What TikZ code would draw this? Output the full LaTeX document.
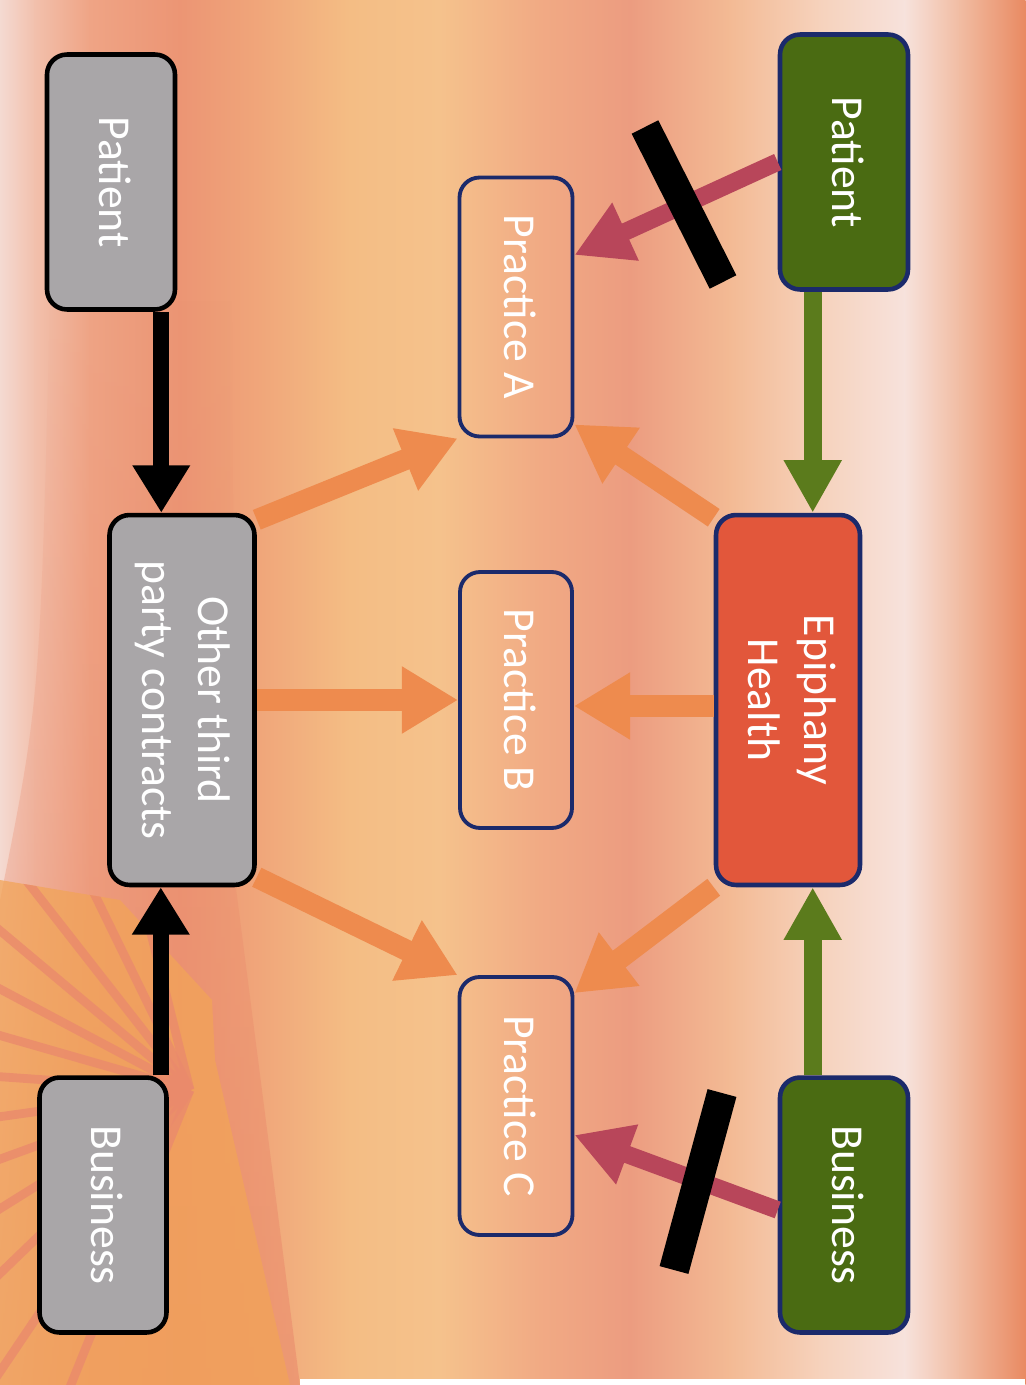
\documentclass[tikz,border=0pt]{standalone}
\usepackage{fontspec}
\setmainfont{Carlito}
\usepackage{graphicx}
\usetikzlibrary{arrows.meta,fadings}

\definecolor{boxgrey}{HTML}{A9A6A8}
\definecolor{boxgreen}{HTML}{4A6B12}
\definecolor{boxred}{HTML}{E2573B}
\definecolor{navy}{HTML}{1B2A6B}
\definecolor{linkgreen}{HTML}{5B7B1C}
\definecolor{linkred}{HTML}{B8465A}
\definecolor{linkorange}{HTML}{EE8B4E}
\definecolor{sunorange}{HTML}{F2A458}
\definecolor{sunray}{HTML}{EA8A6C}
% background stripes
\definecolor{bgA}{HTML}{F4DAD2}
\definecolor{bgB}{HTML}{F2C0AC}
\definecolor{bgC}{HTML}{EFA485}
\definecolor{bgD}{HTML}{EC9574}
\definecolor{bgE}{HTML}{F0A67A}
\definecolor{bgF}{HTML}{F4BD84}
\definecolor{bgG}{HTML}{F5C28C}
\definecolor{bgH}{HTML}{F1AA84}
\definecolor{bgI}{HTML}{EC9C80}
\definecolor{bgJ}{HTML}{F3BA94}
\definecolor{bgK}{HTML}{F6D2BC}
\definecolor{bgL}{HTML}{F7E2DC}
\definecolor{bgM}{HTML}{F1BCA2}
\definecolor{bgN}{HTML}{E98A62}

\newcommand{\vtext}[1]{\rotatebox{-90}{\begin{tabular}{@{}c@{}}#1\end{tabular}}}

\begin{document}
\begin{tikzpicture}[
  x = 0.02cm,
  y = -0.02cm,
  line join=round,
  entity/.style={rounded corners=0.4cm, line width=2.6pt, text=white,
    font=\fontsize{26}{32}\selectfont, inner sep=0pt},
  outside/.style={entity, fill=boxgrey, draw=black},
  member/.style={entity, fill=boxgreen, draw=navy},
  hub/.style={entity, fill=boxred, draw=navy},
  practice/.style={entity, draw=navy, line width=2.2pt},
  blackarrow/.style={line width=9pt, black, -{Triangle[width=31pt,length=27pt]}},
  greenarrow/.style={line width=10pt, linkgreen, -{Triangle[width=31pt,length=30pt]}},
  redarrow/.style={line width=10pt, linkred, -{Triangle[width=34pt,length=32pt]}},
  feed/.style={line width=12pt, linkorange, -{Triangle[width=36pt,length=32pt]}},
  blocker/.style={line width=17pt, black}
]
  \useasboundingbox (0,0) rectangle (1025,1385);

  % background
  \foreach \xa/\ca/\xb/\cb in {0/bgA/35/bgB, 35/bgB/90/bgC, 90/bgC/180/bgD,
      180/bgD/260/bgE, 260/bgE/350/bgF, 350/bgF/440/bgG, 440/bgG/540/bgH,
      540/bgH/630/bgI, 630/bgI/730/bgJ, 730/bgJ/820/bgK, 820/bgK/905/bgL,
      905/bgL/960/bgM, 960/bgM/1025/bgN}
    \shade[left color=\ca, right color=\cb] (\xa-0.5,0) rectangle (\xb+0.5,1385);
  \fill[sunray, opacity=0.6, path fading=north]
    (50,300) -- (232,300) -- (235,880) -- (300,1385) -- (0,1385) -- (0,900)
    .. controls (40,700) .. (50,300);
  \begin{scope}
    \clip (0,880) -- (120,900) -- (212,1000) -- (215,1060) -- (290,1385) -- (0,1385) -- cycle;
    \fill[sunorange, opacity=0.75] (0,850) rectangle (300,1385);
    \foreach \a in {112,124,...,256}
      \draw[sunray, line width=5pt, opacity=0.8] (190,1090) -- ++(\a:420);
  \end{scope}
  \fill[white] (300,1379) rectangle (1025,1385);

  % boxes
  \node[outside, minimum width=2.56cm, minimum height=5.1cm] (pg) at (111,182) {\vtext{Patient}};
  \node[outside, minimum width=2.9cm, minimum height=7.4cm] (ot) at (182,700) {\vtext{Other third\\party contracts}};
  \node[outside, minimum width=2.54cm, minimum height=5.1cm] (bg) at (103,1205) {\vtext{Business}};
  \node[practice, minimum width=2.26cm, minimum height=5.18cm] (pa) at (516,307) {\vtext{Practice A}};
  \node[practice, minimum width=2.24cm, minimum height=5.12cm] (pb) at (516,700) {\vtext{Practice B}};
  \node[practice, minimum width=2.26cm, minimum height=5.16cm] (pc) at (516,1106) {\vtext{Practice C}};
  \node[hub, minimum width=2.88cm, minimum height=7.4cm] (ep) at (788,700) {\vtext{Epiphany\\Health}};
  \node[member, minimum width=2.56cm, minimum height=5.1cm] (gp) at (844,162) {\vtext{Patient}};
  \node[member, minimum width=2.56cm, minimum height=5.1cm] (gb) at (844,1205) {\vtext{Business}};

  % contracts
  \draw[blackarrow] ([xshift=-0.32cm]pg.south east) -- ([xshift=-0.32cm]pg.south east |- ot.north);
  \draw[blackarrow] ([xshift=-0.16cm]bg.north east) -- ([xshift=-0.16cm]bg.north east |- ot.south);
  \draw[greenarrow] ([xshift=0.7cm]gp.south west) -- ([xshift=0.7cm]gp.south west |- ep.north);
  \draw[greenarrow] ([xshift=0.7cm]gb.north west) -- ([xshift=0.7cm]gb.north west |- ep.south);

  % referrals
  \draw[feed] ([yshift=-0.14cm]ot.north east) -- (pa.south west);
  \draw[feed] ([yshift=-0.1cm]ep.north west) -- ([yshift=0.28cm]pa.south east);
  \draw[feed] (ot.east) -- (pb.west);
  \draw[feed] ([yshift=-0.12cm]ep.west) -- ([yshift=-0.12cm]pb.east);
  \draw[feed] ([yshift=0.2cm]ot.south east) -- (pc.north west);
  \draw[feed] (ep.south west) -- ([yshift=-0.36cm]pc.north east);

  % blocked direct links
  \draw[redarrow] (gp.west) -- ([yshift=1.04cm]pa.east);
  \draw[redarrow] ([yshift=-0.1cm]gb.west) -- ([yshift=-0.58cm]pc.east);
  \draw[blocker] (645,127) -- (723,282);
  \draw[blocker] (722,1093) -- (674,1270);
\end{tikzpicture}
\end{document}
